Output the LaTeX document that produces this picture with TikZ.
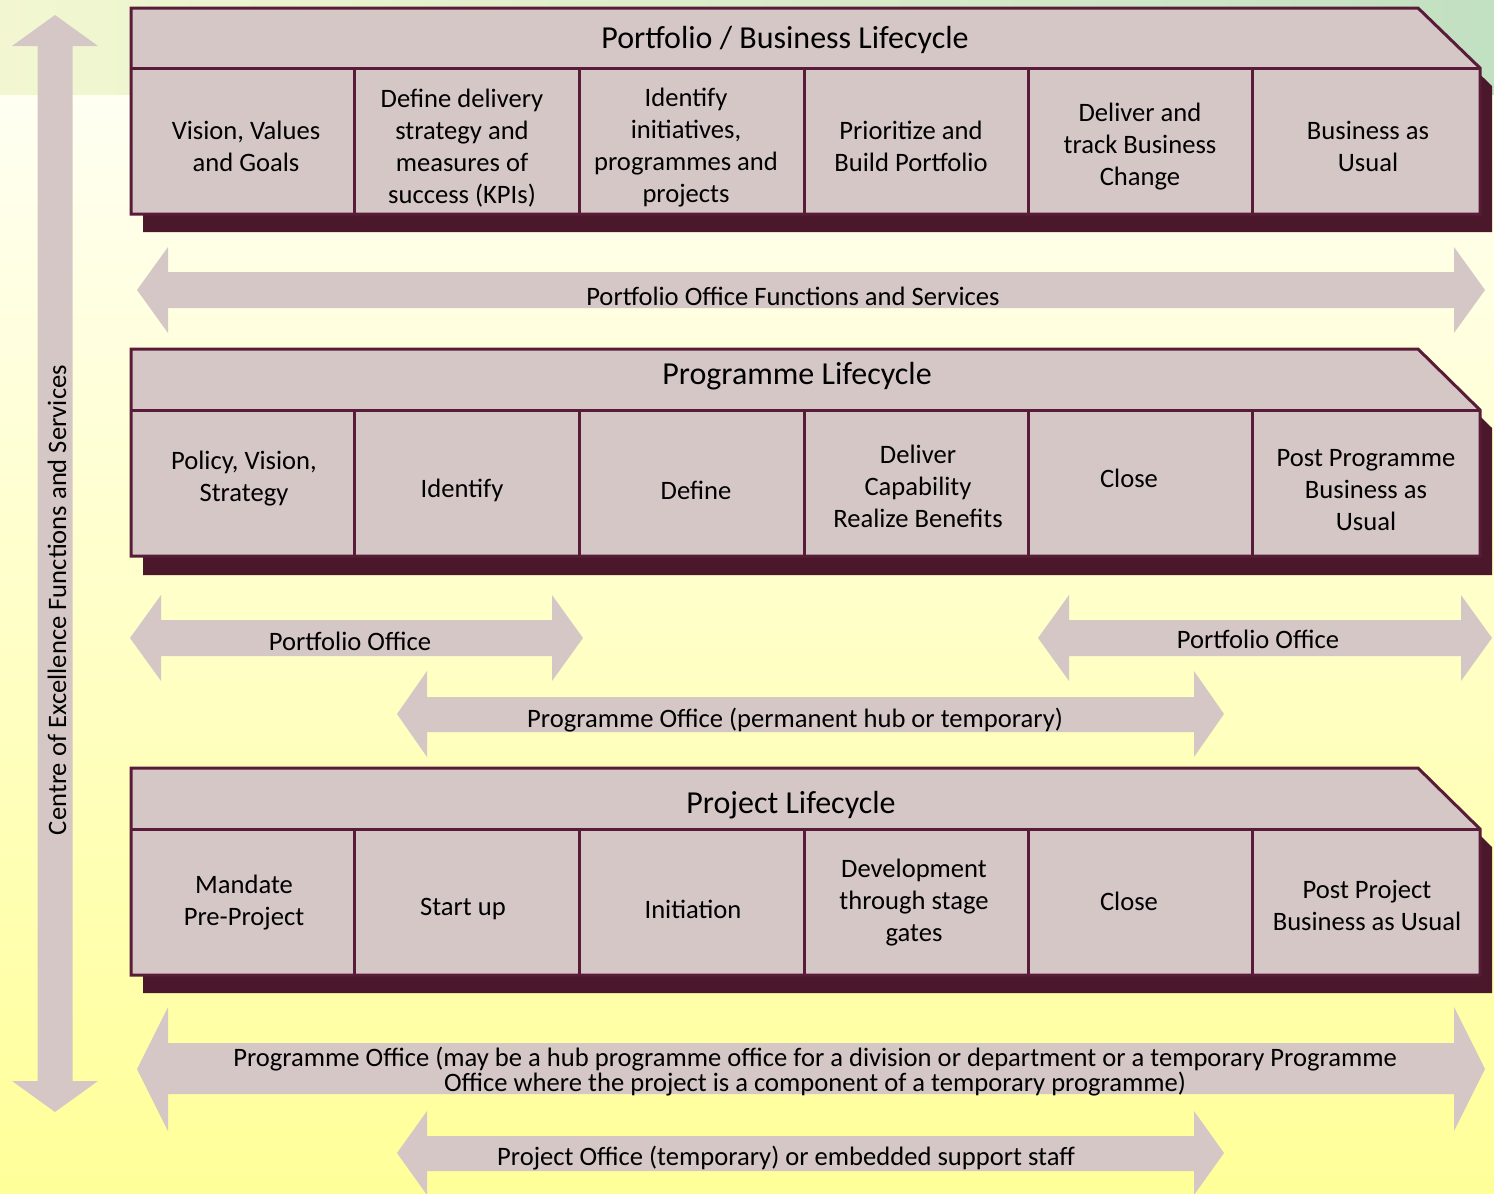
\documentclass[tikz,border=0pt]{standalone}
\usepackage{fontspec}
\setmainfont{Carlito}

\begin{document}
\begin{tikzpicture}[x=0.5pt,y=-0.5pt,
  frame/.style={draw=lineColor,line width=1.5pt,line join=miter,fill=fillColor},
  divider/.style={draw=lineColor,line width=1.5pt},
  shadow/.style={fill=shadowColor},
  band/.style={fill=arrowColor},
  cell/.style={align=center,inner sep=0pt,outer sep=0pt,yshift=-1pt,font=\fontsize{13.3}{16}\selectfont},
  title/.style={inner sep=0pt,outer sep=0pt,yshift=-1.5pt,font=\fontsize{16}{19}\selectfont},
  bandtext/.style={align=center,inner sep=0pt,outer sep=0pt,font=\fontsize{13.3}{12.5}\selectfont}]
\definecolor[named]{fillColor}{rgb}{0.84,0.78,0.78}
\definecolor[named]{arrowColor}{rgb}{0.84,0.78,0.78}
\definecolor[named]{lineColor}{rgb}{0.35,0.11,0.22}
\definecolor[named]{shadowColor}{rgb}{0.29,0.09,0.17}
\definecolor[named]{topLeft}{rgb}{0.95,0.97,0.82}
\definecolor[named]{topRight}{rgb}{0.76,0.88,0.76}
\definecolor[named]{bgTop}{rgb}{1.00,1.00,0.95}
\definecolor[named]{bgBottom}{rgb}{1.00,1.00,0.60}
\useasboundingbox (0,0) rectangle (1494,1194);
\begin{scope}
\path[clip] (0,0) rectangle (1494,1194);
\shade[left color=topLeft,right color=topRight] (0,0) rectangle (1494,96);
\shade[top color=bgTop,bottom color=bgBottom] (0,95) rectangle (1494,1194);

% portfolio / business lifecycle
\path[shadow] (143,26) -- (1430,26) -- (1492,86) -- (1492,232) -- (143,232) -- cycle;
\path[frame] (131,8) -- (1418,8) -- (1480,68) -- (1480,214) -- (131,214) -- cycle;
\path[divider] (131,68) -- (1480,68) (354,68) -- (354,214) (579,68) -- (579,214)
  (804,68) -- (804,214) (1028,68) -- (1028,214) (1252,68) -- (1252,214);
\node[title] (pfTitle) at (785,37) {Portfolio / Business Lifecycle};
\node[cell] (pfVision) at (246,144) {Vision, Values\\and Goals};
\node[cell] (pfStrategy) at (462,146) {Define delivery\\strategy and\\measures of\\success (KPIs)};
\node[cell] (pfIdentify) at (686,146) {Identify\\initiatives,\\programmes and\\projects};
\node[cell] (pfPrioritize) at (911,144) {Prioritize and\\Build Portfolio};
\node[cell] (pfDeliver) at (1140,145) {Deliver and\\track Business\\Change};
\node[cell] (pfBau) at (1368,144) {Business as\\Usual};

\path[band] (137,290) -- (168,247) -- (168,272) -- (1454,272) -- (1454,247) -- (1485,290)
  -- (1454,333) -- (1454,308) -- (168,308) -- (168,333) -- cycle;
\node[bandtext] (pfOffice) at (793,296) {Portfolio Office Functions and Services};

% programme lifecycle
\path[shadow] (143,367) -- (1430,367) -- (1492,428) -- (1492,575) -- (143,575) -- cycle;
\path[frame] (131,349) -- (1418,349) -- (1480,410) -- (1480,556) -- (131,556) -- cycle;
\path[divider] (131,410) -- (1480,410) (354,410) -- (354,556) (579,410) -- (579,556)
  (804,410) -- (804,556) (1028,410) -- (1028,556) (1252,410) -- (1252,556);
\node[title] (pgTitle) at (797,373) {Programme Lifecycle};
\node[cell] (pgPolicy) at (244,477) {Policy, Vision,\\Strategy};
\node[cell] (pgIdentify) at (462,488) {Identify};
\node[cell] (pgDefine) at (696,488) {Define};
\node[cell] (pgDeliver) at (918,484) {Deliver\\Capability\\Realize Benefits};
\node[cell] (pgClose) at (1129,476) {Close};
\node[cell] (pgBau) at (1366,488) {Post Programme\\Business as\\Usual};

\path[band] (130,638) -- (161,595) -- (161,620) -- (552,620) -- (552,595) -- (583,638)
  -- (552,681) -- (552,656) -- (161,656) -- (161,681) -- cycle;
\node[bandtext] (pgPortLeft) at (350,641) {Portfolio Office};
\path[band] (1038,638) -- (1069,595) -- (1069,620) -- (1461,620) -- (1461,595) -- (1492,638)
  -- (1461,681) -- (1461,656) -- (1069,656) -- (1069,681) -- cycle;
\node[bandtext] (pgPortRight) at (1258,639) {Portfolio Office};
\path[band] (397,714) -- (427,671) -- (427,697) -- (1194,697) -- (1194,671) -- (1224,714)
  -- (1194,757) -- (1194,732) -- (427,732) -- (427,757) -- cycle;
\node[bandtext] (pgOffice) at (795,720) {Programme Office (permanent hub or temporary)};

% project lifecycle
\path[shadow] (143,786) -- (1430,786) -- (1492,847) -- (1492,993) -- (143,993) -- cycle;
\path[frame] (131,768) -- (1418,768) -- (1480,829) -- (1480,975) -- (131,975) -- cycle;
\path[divider] (131,829) -- (1480,829) (354,829) -- (354,975) (579,829) -- (579,975)
  (804,829) -- (804,975) (1028,829) -- (1028,975) (1252,829) -- (1252,975);
\node[title] (pjTitle) at (791,802) {Project Lifecycle};
\node[cell] (pjMandate) at (244,901) {Mandate\\Pre-Project};
\node[cell] (pjStart) at (463,907) {Start up};
\node[cell] (pjInit) at (693,907) {Initiation};
\node[cell] (pjDevelop) at (914,901) {Development\\through stage\\gates};
\node[cell] (pjClose) at (1129,899) {Close};
\node[cell] (pjBau) at (1367,903) {Post Project\\Business as Usual};

\path[band] (137,1069) -- (168,1007) -- (168,1043) -- (1454,1043) -- (1454,1007) -- (1485,1069)
  -- (1454,1131) -- (1454,1094) -- (168,1094) -- (168,1131) -- cycle;
\node[bandtext] (pjProgOffice) at (815,1072) {Programme Office (may be a hub programme office for a division or department or a temporary Programme\\Office where the project is a component of a temporary programme)};
\path[band] (397,1153) -- (427,1111) -- (427,1136) -- (1194,1136) -- (1194,1111) -- (1224,1153)
  -- (1194,1195) -- (1194,1171) -- (427,1171) -- (427,1195) -- cycle;
\node[bandtext] (pjOffice) at (786,1158) {Project Office (temporary) or embedded support staff};

% centre of excellence
\path[band] (55,15) -- (98,46) -- (72.5,46) -- (72.5,1081) -- (98,1081) -- (55,1112)
  -- (12,1081) -- (37.5,1081) -- (37.5,46) -- (12,46) -- cycle;
\node[bandtext,rotate=90] (coe) at (57,600) {Centre of Excellence Functions and Services};
\end{scope}
\end{tikzpicture}
\end{document}
